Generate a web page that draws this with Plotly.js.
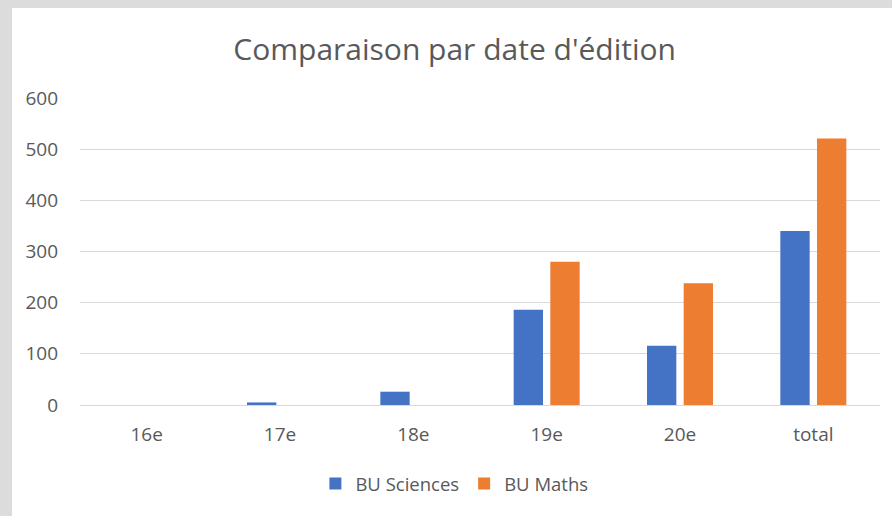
<!DOCTYPE html>
<html>
<head>
<meta charset="utf-8">
<script src="https://cdn.plot.ly/plotly-3.0.1.min.js"></script>
<style>
  html, body { margin:0; padding:0; background:#dcdcdd; width:892px; height:516px; overflow:hidden; }
  #chart { position:absolute; left:12px; top:8px; width:880px; height:508px; background:#ffffff; }
</style>
</head>
<body>
<div id="chart"></div>
<script>
const categories = ["16e", "17e", "18e", "19e", "20e", "total"];
const buSciences = [0, 5, 26, 186, 116, 340];
const buMaths = [0, 0, 0, 280, 238, 521];
const yTicks = [0, 100, 200, 300, 400, 500, 600];

const font = "'Open Sans', 'Noto Sans', sans-serif";
const traces = [
  { type: "bar", name: "BU Sciences", x: categories, y: buSciences,
    marker: { color: "#4472C4" }, hoverinfo: "x+y+name" },
  { type: "bar", name: "BU Maths", x: categories, y: buMaths,
    marker: { color: "#ED7D31" }, hoverinfo: "x+y+name" }
];

const layout = {
  width: 880, height: 508,
  margin: { l: 68, r: 12, t: 90, b: 111 },
  paper_bgcolor: "#ffffff", plot_bgcolor: "#ffffff",
  font: { family: font, color: "#595959", size: 19 },
  title: { text: "Comparaison par date d'édition", x: 0.503, xref: "container",
           xanchor: "center", y: 0.919, yref: "container", yanchor: "middle",
           font: { family: font, size: 30, color: "#595959" } },
  barmode: "group", bargap: 0.45, bargroupgap: 0.2,
  xaxis: { type: "category", showgrid: false, showline: true, linecolor: "#d9d9d9",
           linewidth: 1, ticks: "", ticklabelstandoff: 12,
           tickfont: { size: 19, color: "#595959" }, fixedrange: true },
  yaxis: { range: [0, 600], tickvals: yTicks, showgrid: true, gridcolor: "#d9d9d9",
           gridwidth: 1, zeroline: false, showline: false, ticks: "",
           ticklabelstandoff: 21, tickfont: { size: 19, color: "#595959" }, fixedrange: true },
  showlegend: true,
  legend: { orientation: "h", x: 0.468, xanchor: "center", y: -0.257, yanchor: "middle",
            font: { size: 18.5, color: "#595959" }, itemwidth: 30, traceorder: "normal" }
};

Plotly.newPlot("chart", traces, layout, { displayModeBar: false, staticPlot: true });
</script>
</body>
</html>
